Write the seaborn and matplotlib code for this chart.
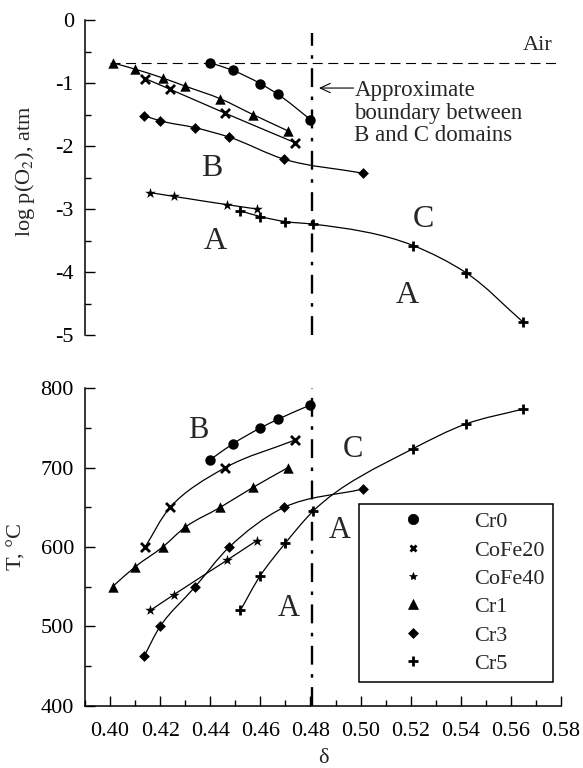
import numpy as np
import pandas as pd
import matplotlib
matplotlib.use("Agg")
import matplotlib.pyplot as plt
import seaborn as sns
from matplotlib.path import Path
from matplotlib.patches import PathPatch
from matplotlib.lines import Line2D
from matplotlib.ticker import MultipleLocator

# ---------------- data ----------------
series_names = ["Cr0", "CoFe20", "CoFe40", "Cr1", "Cr3", "Cr5"]

delta_cr0 = [0.440, 0.449, 0.460, 0.467, 0.480]
logp_cr0 = [-0.68, -0.80, -1.01, -1.18, -1.58]
temp_cr0 = [710, 730, 750, 761, 779]

delta_cofe20 = [0.414, 0.424, 0.446, 0.474]
logp_cofe20 = [-0.93, -1.10, -1.48, -1.95]
temp_cofe20 = [600, 650, 700, 735]

delta_cofe40 = [0.416, 0.4255, 0.4465, 0.4585]
logp_cofe40 = [-2.74, -2.80, -2.93, -3.00]
temp_cofe40 = [520, 540, 583, 608]

delta_cr1 = [0.401, 0.410, 0.421, 0.430, 0.444, 0.457, 0.471]
logp_cr1 = [-0.68, -0.78, -0.92, -1.05, -1.25, -1.50, -1.76]
temp_cr1 = [550, 575, 600, 625, 650, 675, 700]

delta_cr3 = [0.4137, 0.420, 0.434, 0.4476, 0.4695, 0.5008]
logp_cr3 = [-1.52, -1.60, -1.71, -1.86, -2.21, -2.43]
temp_cr3 = [463, 500, 550, 600, 650, 673]

delta_cr5 = [0.452, 0.460, 0.470, 0.481, 0.521, 0.542, 0.565]
logp_cr5 = [-3.03, -3.12, -3.20, -3.24, -3.58, -4.01, -4.80]
temp_cr5 = [520, 564, 605, 645, 724, 755, 774]

air_logp = -0.68
boundary_delta = 0.4807

# ---------------- style ----------------
sns.set_theme(style="ticks")
plt.rcParams["font.family"] = ["Liberation Serif", "DejaVu Serif"]
plt.rcParams["mathtext.fontset"] = "stix"
plt.rcParams["axes.unicode_minus"] = False
plt.rcParams["xtick.direction"] = "in"
plt.rcParams["ytick.direction"] = "in"

FS = 16

fig = plt.figure(figsize=(5.83, 7.68), dpi=100)
W, H = 583.0, 768.0
ax1 = fig.add_axes([85 / W, 1 - 335 / H, 476 / W, 315 / H])
ax2 = fig.add_axes([85 / W, 1 - 705.7 / H, 476 / W, 317.4 / H])

styles = {
    "Cr0": dict(marker="o", s=7.5 ** 2, lw=0),
    "CoFe20": dict(marker="x", s=6.5 ** 2, lw=2.0),
    "CoFe40": dict(marker="*", s=8 ** 2, lw=0),
    "Cr1": dict(marker="^", s=7.5 ** 2, lw=0),
    "Cr3": dict(marker="D", s=5.5 ** 2, lw=0),
    "Cr5": dict(marker="+", s=7.5 ** 2, lw=2.0),
}

top_data = {
    "Cr0": (delta_cr0, logp_cr0),
    "CoFe20": (delta_cofe20, logp_cofe20),
    "CoFe40": (delta_cofe40, logp_cofe40),
    "Cr1": (delta_cr1, logp_cr1),
    "Cr3": (delta_cr3, logp_cr3),
    "Cr5": (delta_cr5, logp_cr5),
}
bot_data = {
    "Cr0": (delta_cr0, temp_cr0),
    "CoFe20": (delta_cofe20, temp_cofe20),
    "CoFe40": (delta_cofe40, temp_cofe40),
    "Cr1": (delta_cr1, temp_cr1),
    "Cr3": (delta_cr3, temp_cr3),
    "Cr5": (delta_cr5, temp_cr5),
}


def smooth_curve(ax, xs, ys, sx, sy):
    """Smooth Bezier path through the data points (chordal cubic Hermite)."""
    pts = np.column_stack([np.asarray(xs, float) * sx, np.asarray(ys, float) * sy])
    n = len(pts)
    dt = np.linalg.norm(np.diff(pts, axis=0), axis=1)
    slopes = np.diff(pts, axis=0) / dt[:, None]
    m = np.zeros_like(pts)
    m[0] = slopes[0]
    m[-1] = slopes[-1]
    for i in range(1, n - 1):
        m[i] = (slopes[i] * dt[i - 1] + slopes[i - 1] * dt[i]) / (dt[i - 1] + dt[i])
    verts = [pts[0]]
    codes = [Path.MOVETO]
    for i in range(n - 1):
        c1 = pts[i] + m[i] * dt[i] / 3.0
        c2 = pts[i + 1] - m[i + 1] * dt[i] / 3.0
        verts += [c1, c2, pts[i + 1]]
        codes += [Path.CURVE4] * 3
    verts = np.array(verts) / np.array([sx, sy])
    ax.add_patch(PathPatch(Path(verts, codes), fill=False, lw=0.9,
                           ec="black", zorder=2))


def draw_panel(ax, data, yspan):
    for name in series_names:
        xs, ys = data[name]
        smooth_curve(ax, xs, ys, 476 / 0.19, 315 / yspan)
        st = styles[name]
        df = pd.DataFrame({"x": xs, "y": ys})
        sns.scatterplot(data=df, x="x", y="y", ax=ax, marker=st["marker"],
                        s=st["s"], color="black", edgecolor="black",
                        linewidth=st["lw"], zorder=4, legend=False)


DASHDOT = [(0, (8, 4, 1.5, 4))]

# ---------------- top panel ----------------
ax1.set_xlim(0.39, 0.58)
ax1.set_ylim(-5, 0)
draw_panel(ax1, top_data, 5.0)
ax1.hlines(air_logp, 0.40, 0.58, colors="black", lw=0.8,
           linestyles=[(0, (9, 5))], zorder=1)
ax1.vlines(boundary_delta, -5, -0.2, colors="black", lw=1.7,
           linestyles=DASHDOT, zorder=3)
for sp in ["top", "right", "bottom"]:
    ax1.spines[sp].set_visible(False)
ax1.set_xticks([])
ax1.set_yticks([0, -1, -2, -3, -4, -5])
ax1.set_yticklabels(["0", "-1", "-2", "-3", "-4", "-5"])
ax1.yaxis.set_minor_locator(MultipleLocator(0.5))
ax1.set_xlabel("")
ax1.set_ylabel("log p(O$_2$), atm", fontsize=FS)
ax1.yaxis.set_label_coords(-0.10, 0.52)

ax1.text(0.5708, -0.40, "Air", fontsize=FS, ha="center", va="center")
ax1.text(0.4975, -1.48, "Approximate\nboundary between\nB and C domains",
         fontsize=16.5, ha="left", va="center", linespacing=1.08)
ax1.annotate("", xy=(0.4834, -1.08), xytext=(0.4972, -1.08),
             arrowprops=dict(arrowstyle="->,head_length=0.6,head_width=0.28",
                             lw=0.8, color="black", shrinkA=0, shrinkB=0))
ax1.text(0.4406, -2.35, "B", fontsize=23, ha="center", va="center")
ax1.text(0.4419, -3.52, "A", fontsize=23, ha="center", va="center")
ax1.text(0.5250, -3.17, "C", fontsize=23, ha="center", va="center")
ax1.text(0.5186, -4.37, "A", fontsize=23, ha="center", va="center")

# ---------------- bottom panel ----------------
ax2.set_xlim(0.39, 0.58)
ax2.set_ylim(400, 800)
draw_panel(ax2, bot_data, 400.0)
ax2.vlines(boundary_delta, 400, 800, colors="black", lw=1.7,
           linestyles=DASHDOT, zorder=3)
for sp in ["top", "right"]:
    ax2.spines[sp].set_visible(False)
ax2.set_xticks([0.40, 0.42, 0.44, 0.46, 0.48, 0.50, 0.52, 0.54, 0.56, 0.58])
ax2.set_xticklabels(["0.40", "0.42", "0.44", "0.46", "0.48", "0.50",
                     "0.52", "0.54", "0.56", "0.58"])
ax2.xaxis.set_minor_locator(MultipleLocator(0.01))
ax2.set_yticks([400, 500, 600, 700, 800])
ax2.yaxis.set_minor_locator(MultipleLocator(50))
ax2.set_xlabel("δ", fontsize=FS)
ax2.xaxis.set_label_coords(0.5, -0.135)
ax2.set_ylabel("T, °C", fontsize=FS)
ax2.yaxis.set_label_coords(-0.122, 0.5)

ax2.text(0.4352, 747, "B", fontsize=22, ha="center", va="center")
ax2.text(0.4968, 723, "C", fontsize=22, ha="center", va="center")
ax2.text(0.4918, 621, "A", fontsize=22, ha="center", va="center")
ax2.text(0.4715, 523, "A", fontsize=22, ha="center", va="center")

for ax in (ax1, ax2):
    for sp in ax.spines.values():
        sp.set_linewidth(1.1)
        sp.set_color("black")
    ax.tick_params(which="major", length=7.5, width=1.0, labelsize=FS,
                   colors="black")
    ax.tick_params(which="minor", length=4, width=1.0, colors="black")
    ax.tick_params(axis="y", which="major", pad=8)
    ax.tick_params(axis="x", which="major", pad=12)
    ax.set_facecolor("white")

# legend
leg_sizes = {"Cr0": 7.5, "CoFe20": 5, "CoFe40": 6, "Cr1": 6.5, "Cr3": 5, "Cr5": 6.5}
handles = []
for name in series_names:
    st = styles[name]
    handles.append(Line2D([], [], ls="none", marker=st["marker"], color="black",
                          markersize=leg_sizes[name],
                          markeredgewidth=2.0 if st["lw"] > 0 else 0.5))
leg = ax2.legend(handles, series_names, fontsize=FS, loc="center",
                 bbox_to_anchor=(0.6163, 0.1059, 0.3328, 0.2444),
                 bbox_transform=fig.transFigure, mode="expand",
                 frameon=True, fancybox=False, edgecolor="black",
                 framealpha=1, borderpad=0.35, labelspacing=0.35,
                 handlelength=4.1, handletextpad=0.7, numpoints=1,
                 borderaxespad=0)
leg.get_frame().set_linewidth(1.1)

fig.savefig("out.png", dpi=100, facecolor="white")
